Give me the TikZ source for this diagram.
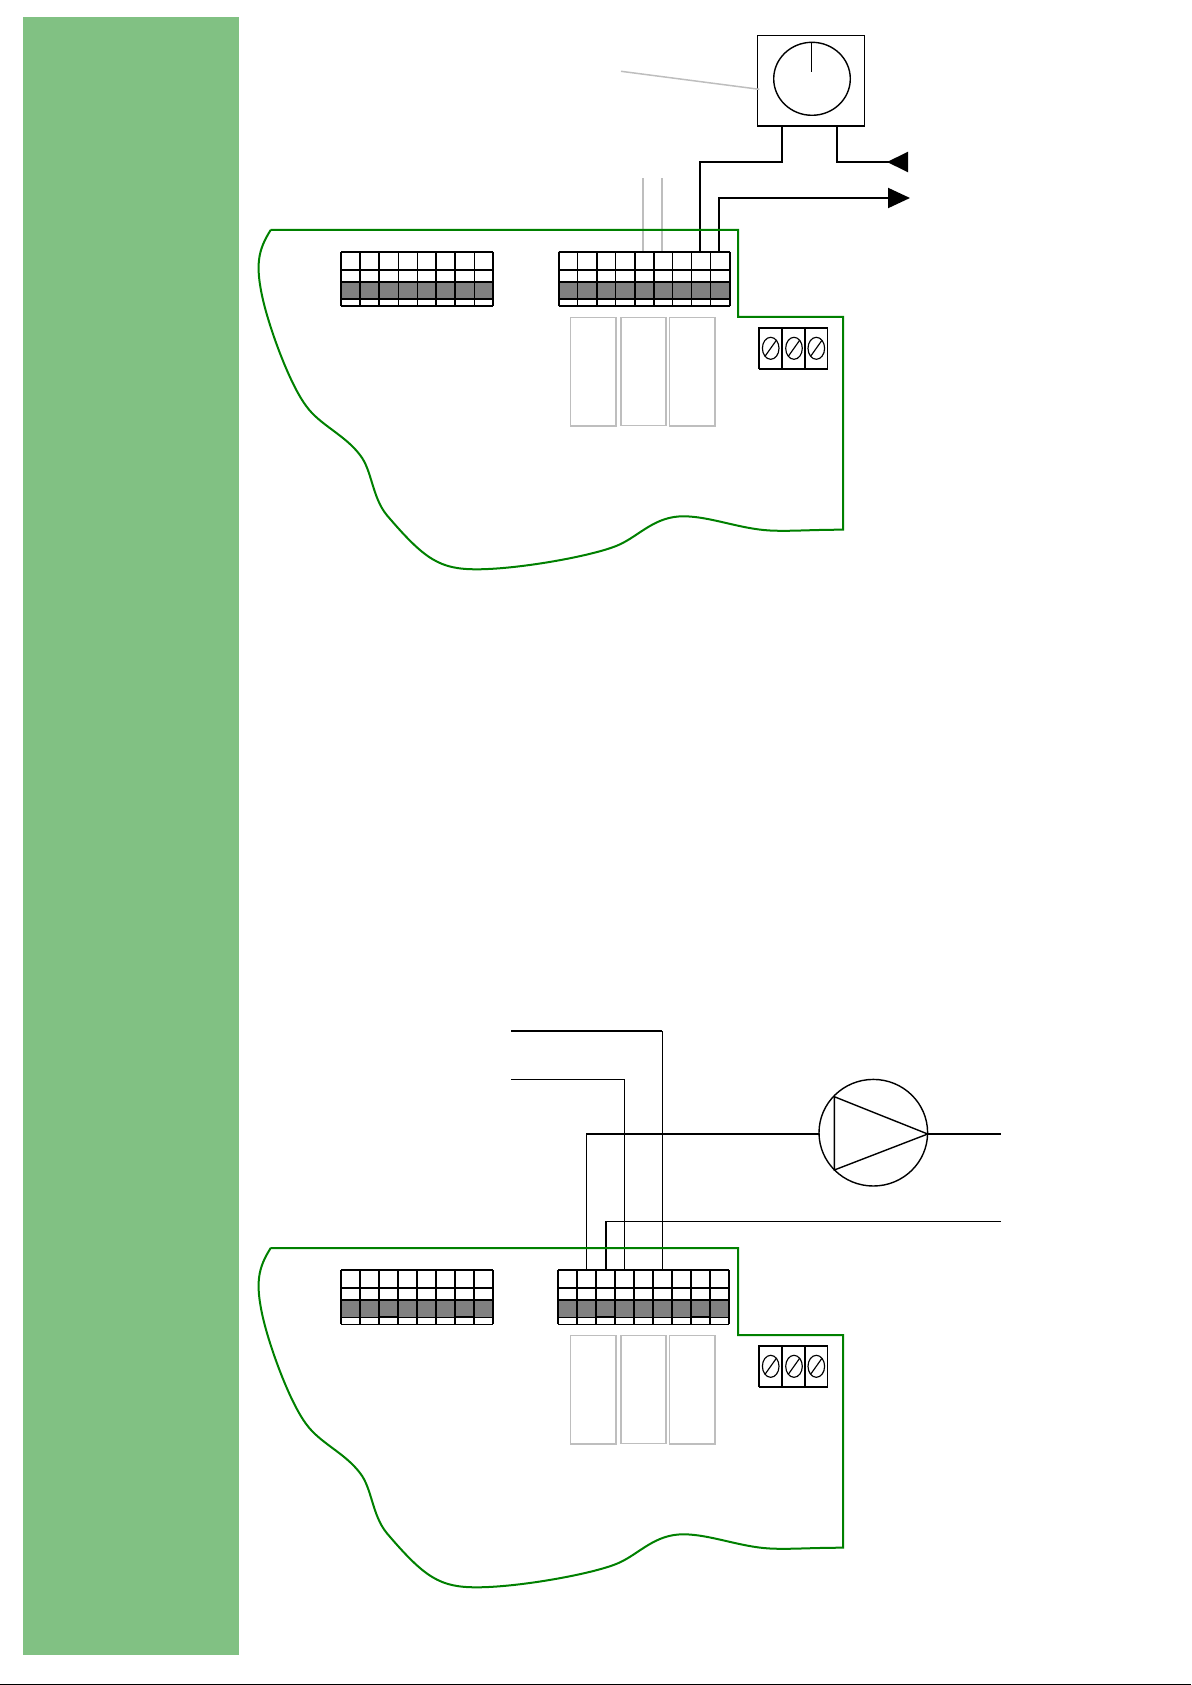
\documentclass[tikz,border=0pt]{standalone}
\usepackage{tikz}
\usetikzlibrary{arrows.meta}
\definecolor{sidegreen}{RGB}{129,193,131}
\definecolor{boardgreen}{RGB}{0,128,0}
\definecolor{termgray}{RGB}{128,128,128}
\definecolor{palegray}{RGB}{190,190,190}

\begin{document}
\begin{tikzpicture}
  [x=1pt,y=-1pt,line join=miter,
thin wire/.style={line width=1.15pt},
heavy/.style={line width=2pt},
pale/.style={draw=palegray,line width=1.5pt},
board/.style={draw=boardgreen,line width=2pt}]

\useasboundingbox (0,0) rectangle (1191,1685);
\fill [sidegreen] (23,17) rectangle (239,1655);
\fill [black] (0,1684) rectangle (1191,1685);

% #1 left edge, #2 columns, #3 heavy uprights, #4 heavy rows
\newcommand{\TERMS}[4]{
\begin{scope}[shift={(#1,252)}]
  \fill [termgray] (0,30) rectangle (#2*19,47.3);
  \foreach \r in {0,18,30,47.3,54.3}
    \draw [thin wire] (0,\r) -- (#2*19,\r);
  \foreach \k in {0,...,#2}
    \draw [thin wire] (\k*19,0) -- (\k*19,54.3);
  \foreach \k in {#3}
    \draw [heavy] (\k*19,0) -- (\k*19,54.3);
  \foreach \r in {#4}
    \draw [heavy] (0,\r) -- (#2*19,\r);
\end{scope}
}

\newcommand{\BOARD}{
  \draw [board] (270.7,230) -- (738,230) -- (738,317) -- (843,317) -- (843,529.7)
    .. controls (810,529.7) and (790,531.5) .. (770,530.5)
    .. controls (740,529) and (710,516.3) .. (683.3,516.3)
    .. controls (655,516.3) and (640,535) .. (620,544.3)
    .. controls (598,555) and (520,569.3) .. (476.7,569.3)
    .. controls (440,569.3) and (425,560) .. (386.7,515)
    .. controls (372,497) and (372,470) .. (360,455)
    .. controls (345,435) and (320,425) .. (306.7,406.7)
    .. controls (290,385) and (270,330) .. (263,300)
    .. controls (255,265) and (258,250) .. (270.7,230);

  \draw [pale] (570.5,317.5) rectangle (616,426);
  \draw [pale] (621,317.5) rectangle (666,425.5);
  \draw [pale] (669.5,317.5) rectangle (715,426);

  \draw [thin wire] (759,328) rectangle (827.5,368.5);
  \draw [heavy] (759,328) -- (827.5,328);
  \draw [heavy] (759,368.5) -- (827.5,368.5);
  \draw [thin wire] (782,328) -- (782,368.5);
  \draw [thin wire] (805,328) -- (805,368.5);
  \foreach \s in {770.7,794,816.3} {
    \draw [thin wire] (\s,348.3) ellipse [x radius=8.3,y radius=11];
    \draw [thin wire] (\s-5.5,356) -- (\s+5.5,340.5);
  }
}

\begin{scope}
  \coordinate (StatL) at (782,126);
  \coordinate (StatR) at (837,126);
  \coordinate (WireA) at (700,252);
  \coordinate (WireB) at (719,252);
  \coordinate (ArrowIn) at (908,162);
  \coordinate (ArrowOut) at (910,198);

  \draw [thin wire] (757.3,35.3) rectangle (864.7,126);
  \draw [heavy] (757.3,126) -- (864.7,126);
  \draw [line width=1.4pt] (812,78.8) ellipse [x radius=38.3,y radius=36.5];
  \draw [thin wire] (811.3,42.3) -- (811.3,72.3);
  \draw [pale] (621,71.3) -- (759.3,89.3);

  \draw [heavy] (StatL) |- (WireA |- 0,162) -- (WireA);
  \draw [heavy,-{Triangle[reversed,length=21pt,width=20pt]}] (StatR) |- (ArrowIn);
  \draw [heavy,-{Triangle[length=22pt,width=20pt]}] (WireB) |- (ArrowOut);
  \draw [pale] (643,178.3) -- (643,252);
  \draw [pale] (662,178.3) -- (662,252);

  \BOARD
  \TERMS{341.3}{8}{0,1,2,5,6,8}{0,18,30,47.3,54.3}
  \TERMS{558.5}{9}{0,2,4,5,9}{0,18,30,47.3,54.3}
\end{scope}

\begin{scope}
  \coordinate (TopEnd) at (511,1031);
  \coordinate (MidEnd) at (511,1079.3);
  \coordinate (PumpIn) at (819,1134);
  \coordinate (PumpOut) at (927.7,1134);
  \coordinate (LineEnd) at (1001,1134);
  \coordinate (NeutEnd) at (1001,1221.3);

  \draw [line width=1.4pt] (873.3,1132.7) ellipse [x radius=54.3,y radius=53.3];
  \draw [line width=1.4pt] (834.3,1096.7) -- (834.3,1170) -- (PumpOut) -- cycle;
  \draw [heavy] (PumpOut) -- (LineEnd);

  \draw [heavy] (TopEnd) -- (662.3,1031);
  \draw [thin wire] (662.3,1031) -- (662.3,1270);
  \draw [thin wire] (MidEnd) -| (624.3,1270);
  \draw [heavy] (PumpIn) -- (586.3,1134);
  \draw [thin wire] (586.3,1134) -- (586.3,1270);
  \draw [thin wire] (NeutEnd) -- (605.7,1221.3);
  \draw [heavy] (605.7,1221.3) -- (605.7,1270);

  \begin{scope}[shift={(0,1018)}]
    \BOARD
    \TERMS{341}{8}{0,3,4,5,7}{30}
    \TERMS{558}{9}{0,2,3,6,7}{30}

    \foreach \c in {379,455,596,691} {
      \draw [heavy] (\c,252) -- (\c+19,252);
      \draw [heavy] (\c,299.3) -- (\c+19,299.3);
    }
    \draw [heavy] (615,252) -- (634,252);
  \end{scope}
\end{scope}

\end{tikzpicture}
\end{document}
